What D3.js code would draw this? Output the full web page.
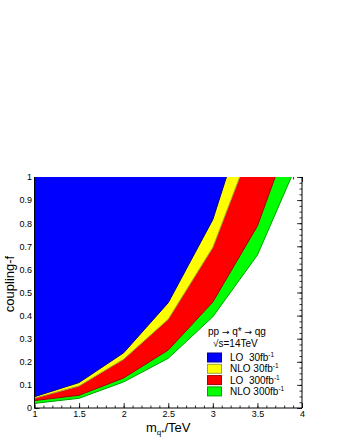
<!DOCTYPE html>
<html>
<head>
<meta charset="utf-8">
<script src="https://cdn.jsdelivr.net/npm/d3@7"></script>
<style>
  body { margin: 0; background: #fff; }
  svg { font-family: "Liberation Sans", Arial, sans-serif; }
</style>
</head>
<body>
<svg width="340" height="440"></svg>
<script>
// exclusion limits, coupling f vs q* mass (TeV)
var massLO30 = [1, 1.5, 2, 2.5, 3, 3.5];
var fLO30 = [0.049, 0.110, 0.239, 0.456, 0.816, 1.42];
var massNLO30 = [1, 1.5, 2, 2.5, 3, 3.5];
var fNLO30 = [0.042, 0.095, 0.211, 0.384, 0.695, 1.20];
var massLO300 = [1, 1.5, 2, 2.5, 3, 3.5, 4];
var fLO300 = [0.032, 0.055, 0.130, 0.251, 0.459, 0.788, 1.32];
var massNLO300 = [1, 1.5, 2, 2.5, 3, 3.5, 4];
var fNLO300 = [0.020, 0.042, 0.113, 0.215, 0.395, 0.662, 1.106];

var legendLabels = ["LO  30fb", "NLO 30fb", "LO  300fb", "NLO 300fb"];
var xTicks = [1, 1.5, 2, 2.5, 3, 3.5, 4];
var yTicks = [0, 0.1, 0.2, 0.3, 0.4, 0.5, 0.6, 0.7, 0.8, 0.9, 1];

var svg = d3.select("svg");
var padL = 34.5, padR = 302, padT = 177, padB = 408;

var x = d3.scaleLinear().domain([1, 4]).range([padL, padR]);
var y = d3.scaleLinear().domain([0, 1]).range([padB, padT]);

// axes first, the fills cover them like in the original
var xMinor = d3.range(10, 41).map(function(d) { return d / 10; });
var yMinor = d3.range(0, 41).map(function(d) { return d / 40; });

function clean(g) {
  g.select(".domain").remove();
  g.selectAll("line").attr("stroke", "#000").attr("stroke-width", 0.8);
}

svg.append("g").attr("transform", "translate(0," + padB + ")")
  .call(d3.axisBottom(x).tickValues(xMinor).tickSize(-2.5).tickFormat(""))
  .call(clean);
svg.append("g").attr("transform", "translate(0," + padB + ")")
  .call(d3.axisBottom(x).tickValues(xTicks).tickSize(-5).tickPadding(3).tickFormat(d3.format("")))
  .call(clean)
  .selectAll("text").attr("font-size", 9).attr("fill", "#000").attr("font-family", "Liberation Sans, Arial, sans-serif");

svg.append("g").attr("transform", "translate(0," + padT + ")")
  .call(d3.axisTop(x).tickValues(xMinor).tickSize(-2.5).tickFormat(""))
  .call(clean);
svg.append("g").attr("transform", "translate(0," + padT + ")")
  .call(d3.axisTop(x).tickValues(xTicks).tickSize(-5).tickFormat(""))
  .call(clean);

svg.append("g").attr("transform", "translate(" + padL + ",0)")
  .call(d3.axisLeft(y).tickValues(yMinor).tickSize(-2.5).tickFormat(""))
  .call(clean);
svg.append("g").attr("transform", "translate(" + padL + ",0)")
  .call(d3.axisLeft(y).tickValues(yTicks).tickSize(-5).tickPadding(2.5).tickFormat(d3.format("")))
  .call(clean)
  .selectAll("text").attr("font-size", 9).attr("fill", "#000").attr("font-family", "Liberation Sans, Arial, sans-serif");

svg.append("g").attr("transform", "translate(" + padR + ",0)")
  .call(d3.axisRight(y).tickValues(yMinor).tickSize(-2.5).tickFormat(""))
  .call(clean);
svg.append("g").attr("transform", "translate(" + padR + ",0)")
  .call(d3.axisRight(y).tickValues(yTicks).tickSize(-5).tickFormat(""))
  .call(clean);

// filled exclusion regions
svg.append("clipPath").attr("id", "frame")
  .append("rect").attr("x", padL).attr("y", padT)
  .attr("width", padR - padL).attr("height", padB - padT);

var series = [
  { mass: massNLO300, f: fNLO300, fill: "#00ff00", line: "#00a000" },
  { mass: massLO300, f: fLO300, fill: "#ff0000", line: "#a00000" },
  { mass: massNLO30, f: fNLO30, fill: "#ffff00", line: "#a0a040" },
  { mass: massLO30, f: fLO30, fill: "#0000ff", line: "#000090" }
];

var area = d3.line().x(function(d) { return x(d[0]); }).y(function(d) { return y(d[1]); });

var regions = svg.append("g").attr("clip-path", "url(#frame)");
series.forEach(function(s) {
  var pts = [[s.mass[0], 1.6]];
  s.mass.forEach(function(m, i) { pts.push([m, s.f[i]]); });
  pts.push([s.mass[s.mass.length - 1], 1.6]);
  regions.append("path")
    .attr("d", area(pts) + "Z")
    .attr("fill", s.fill)
    .attr("stroke", s.line)
    .attr("stroke-width", 1);
});

// frame
svg.append("line").attr("x1", padR).attr("x2", padR).attr("y1", padT).attr("y2", padB)
  .attr("stroke", "#000").attr("stroke-width", 1);
svg.append("line").attr("x1", padL).attr("x2", padR).attr("y1", padB).attr("y2", padB)
  .attr("stroke", "#000").attr("stroke-width", 1);
svg.append("line").attr("x1", padL).attr("x2", padL).attr("y1", padT).attr("y2", padB)
  .attr("stroke", "#000").attr("stroke-width", 1);

// axis titles
var xt = svg.append("text").attr("x", 146).attr("y", 432).attr("font-size", 13);
xt.append("tspan").text("m");
xt.append("tspan").attr("font-size", 8).attr("dy", 3).text("q*");
xt.append("tspan").attr("dy", -3).text("/TeV");

svg.append("text")
  .attr("transform", "translate(14,284) rotate(-90)")
  .attr("text-anchor", "middle")
  .attr("font-size", 13)
  .text("coupling-f");

// legend
var hdr = svg.append("text").attr("x", 208).attr("y", 335).attr("font-size", 10);
hdr.append("tspan").text("pp ");
hdr.append("tspan").attr("font-family", "DejaVu Sans").attr("font-size", 9).text("\u2192");
hdr.append("tspan").text(" q* ");
hdr.append("tspan").attr("font-family", "DejaVu Sans").attr("font-size", 9).text("\u2192");
hdr.append("tspan").text(" qg");
var rs = svg.append("text").attr("x", 213).attr("y", 347).attr("font-size", 10);
rs.append("tspan").text("\u221As=14TeV");

var leg = svg.append("g");
series.slice().reverse().forEach(function(s, i) {
  var yy = 353 + i * 11.3;
  leg.append("rect").attr("x", 207.5).attr("y", yy).attr("width", 14).attr("height", 9)
    .attr("fill", s.fill).attr("stroke", s.line).attr("stroke-width", 1);
  var t = leg.append("text").attr("x", 230).attr("y", yy + 8).attr("font-size", 10)
    .attr("xml:space", "preserve").style("white-space", "pre");
  t.append("tspan").text(legendLabels[i]);
  t.append("tspan").attr("font-size", 6.5).attr("dy", -4).text("-1");
});
</script>
</body>
</html>
